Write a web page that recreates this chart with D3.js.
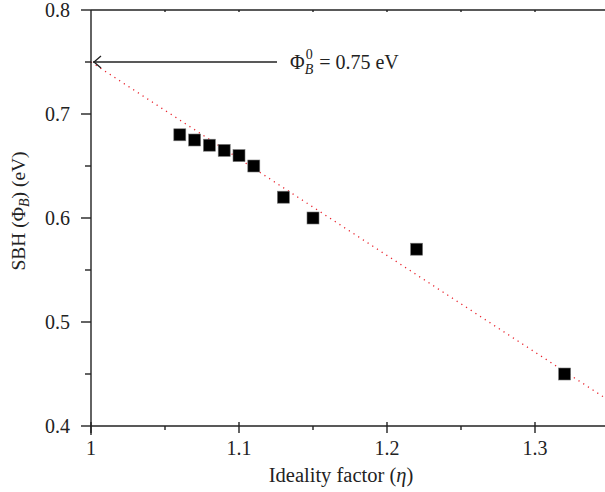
<!DOCTYPE html>
<html>
<head>
<meta charset="utf-8">
<script src="https://cdn.jsdelivr.net/npm/d3@7"></script>
<style>
  html, body { margin: 0; padding: 0; background: #fff; }
  svg text { font-family: "Liberation Serif", "DejaVu Serif", serif; fill: #222; }
</style>
</head>
<body>
<div id="chart"></div>
<script>
'use strict';

// data
var ideality = [1.06, 1.07, 1.08, 1.09, 1.10, 1.11, 1.13, 1.15, 1.22, 1.32];
var sbh      = [0.68, 0.675, 0.67, 0.665, 0.66, 0.65, 0.62, 0.60, 0.57, 0.45];
var fitX     = [1.0, 1.35];
var fitY     = [0.75, 0.4245];
var xTicks   = [1, 1.1, 1.2, 1.3];
var xMinor   = [1.05, 1.15, 1.25];
var yTicks   = [0.4, 0.5, 0.6, 0.7, 0.8];
var yMinor   = [0.45, 0.55, 0.65, 0.75];
var intercept = 0.75;

(function() {
    var width = 605, height = 492;
    var left = 91, right = 609, top = 10, bottom = 426;

    var svg = d3.select("#chart").append("svg")
        .attr("width", width)
        .attr("height", height);

    var x = d3.scaleLinear().domain([1, 1.35]).range([left, right]);
    var y = d3.scaleLinear().domain([0.4, 0.8]).range([bottom, top]);

    // fit line (red dotted)
    var line = d3.line().x(function (d) { return x(d[0]); }).y(function (d) { return y(d[1]); });
    svg.append("path")
        .datum(d3.zip(fitX, fitY))
        .attr("d", line)
        .attr("fill", "none")
        .attr("stroke", "#e8202a")
        .attr("stroke-width", 1.3)
        .attr("stroke-dasharray", "1.2,4.4");

    // squares
    var s = 12;
    svg.selectAll("rect.pt")
        .data(d3.zip(ideality, sbh))
        .enter().append("rect")
        .attr("class", "pt")
        .attr("x", function (d) { return x(d[0]) - s / 2; })
        .attr("y", function (d) { return y(d[1]) - s / 2; })
        .attr("width", s)
        .attr("height", s)
        .attr("fill", "#000")
        .attr("stroke", "#777")
        .attr("stroke-width", 0.6);

    // axes frame
    var ax = svg.append("g").attr("stroke", "#222").attr("stroke-width", 1.4);
    ax.append("line").attr("x1", left).attr("x2", width).attr("y1", bottom).attr("y2", bottom);
    ax.append("line").attr("x1", left).attr("x2", width).attr("y1", top).attr("y2", top);
    ax.append("line").attr("x1", left).attr("x2", left).attr("y1", top).attr("y2", bottom + 9);

    // x ticks
    ax.selectAll("line.xt").data(xTicks).enter().append("line")
        .attr("x1", function (d) { return x(d); }).attr("x2", function (d) { return x(d); })
        .attr("y1", bottom - 4).attr("y2", bottom + 7);
    ax.selectAll("line.xm").data(xMinor).enter().append("line")
        .attr("x1", function (d) { return x(d); }).attr("x2", function (d) { return x(d); })
        .attr("y1", bottom).attr("y2", bottom + 4);
    // small ticks on top edge
    ax.selectAll("line.xtop").data(xTicks.concat(xMinor).filter(function (d) { return d > 1; })).enter().append("line")
        .attr("x1", function (d) { return x(d); }).attr("x2", function (d) { return x(d); })
        .attr("y1", top).attr("y2", top + 2);

    // y ticks
    ax.selectAll("line.yt").data(yTicks).enter().append("line")
        .attr("x1", left - 10).attr("x2", left)
        .attr("y1", function (d) { return y(d); }).attr("y2", function (d) { return y(d); });
    ax.selectAll("line.ym").data(yMinor).enter().append("line")
        .attr("x1", left - 6).attr("x2", left)
        .attr("y1", function (d) { return y(d); }).attr("y2", function (d) { return y(d); });

    // tick labels
    svg.selectAll("text.xl").data(xTicks).enter().append("text")
        .attr("x", function (d) { return x(d); })
        .attr("y", bottom + 29)
        .attr("text-anchor", "middle")
        .attr("font-size", 20)
        .text(function (d) { return d3.format("")(d); });
    svg.selectAll("text.yl").data(yTicks).enter().append("text")
        .attr("x", left - 21)
        .attr("y", function (d) { return y(d) + 6.5; })
        .attr("text-anchor", "end")
        .attr("font-size", 20)
        .text(function (d) { return d.toFixed(1); });

    // axis titles
    var xt = svg.append("text")
        .attr("x", 341).attr("y", 482)
        .attr("text-anchor", "middle")
        .attr("font-size", 20.5);
    xt.append("tspan").text("Ideality factor (");
    xt.append("tspan").attr("font-style", "italic").text("η");
    xt.append("tspan").text(")");

    var yt = svg.append("text")
        .attr("transform", "translate(25," + 211 + ") rotate(-90)")
        .attr("text-anchor", "middle")
        .attr("font-size", 19.5);
    yt.append("tspan").text("SBH (Φ");
    yt.append("tspan").attr("font-style", "italic").attr("font-size", 14).attr("dy", 4).text("B");
    yt.append("tspan").attr("dy", -4).text(") (eV)");

    // annotation arrow
    var ay = y(intercept);
    svg.append("line")
        .attr("x1", 93).attr("x2", 277)
        .attr("y1", ay).attr("y2", ay)
        .attr("stroke", "#222").attr("stroke-width", 1.3);
    svg.append("path")
        .attr("d", "M" + 101 + "," + (ay - 6) + " L" + 94 + "," + ay + " L" + 101 + "," + (ay + 6))
        .attr("fill", "none").attr("stroke", "#222").attr("stroke-width", 1.3);

    // label: Phi, then B subscript and 0 superscript stacked, then the value
    var g = svg.append("g").attr("font-size", 20);
    var lx = 290, base = ay + 7;
    var phi = g.append("text").attr("x", lx).attr("y", base).text("Φ");
    var px = lx + phi.node().getComputedTextLength();
    var sub = g.append("text").attr("x", px).attr("y", base + 5)
        .attr("font-size", 14).attr("font-style", "italic").text("B");
    var sup = g.append("text").attr("x", px + 1).attr("y", base - 10)
        .attr("font-size", 14).text("0");
    var w = Math.max(sub.node().getComputedTextLength(), sup.node().getComputedTextLength() + 1);
    g.append("text").attr("x", px + w + 6).attr("y", base).text("= " + intercept + " eV");
})();
</script>
</body>
</html>
